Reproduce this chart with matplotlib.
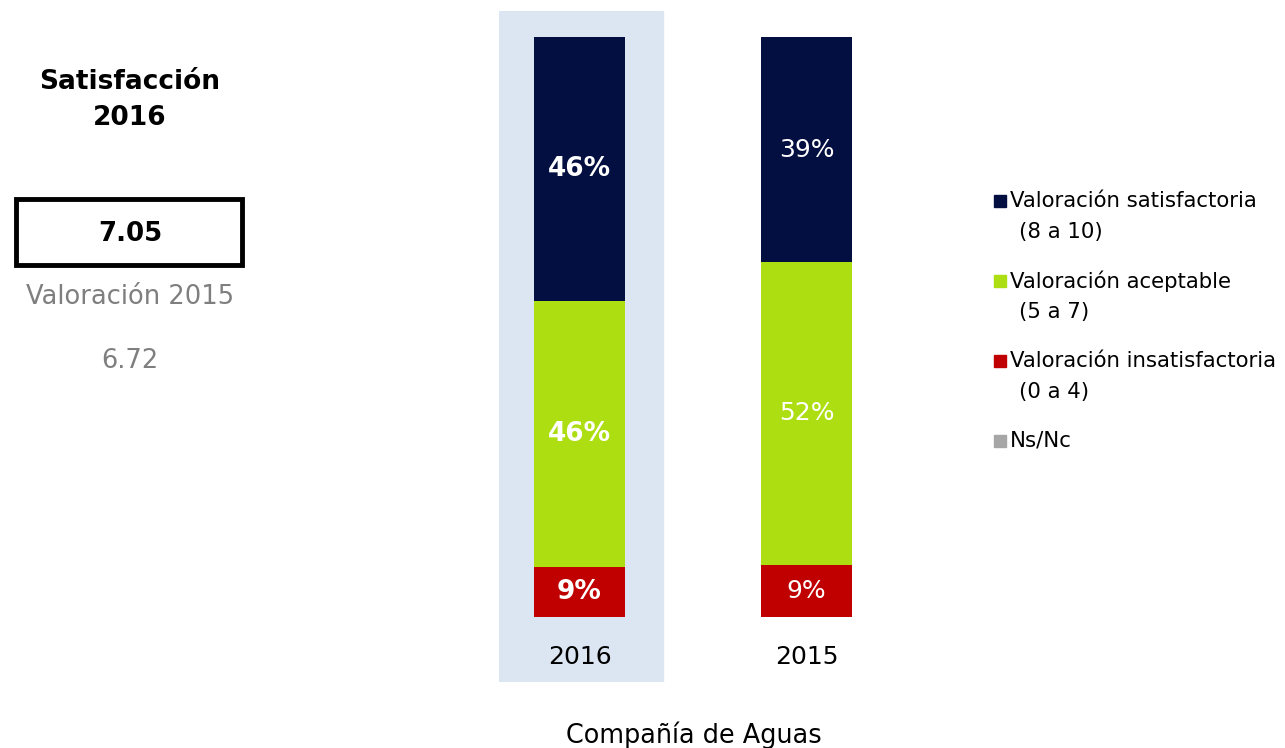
import matplotlib.pyplot as plt
from matplotlib.patches import Rectangle

plt.rcParams['font.family'] = ['DejaVu Sans']

# data
years = ['2016', '2015']
insatisfactoria = [8.6, 9.0]
aceptable = [45.9, 52.2]
satisfactoria = [45.5, 38.8]
nsnc = [0.0, 0.0]
bold_year = [True, False]

legend_labels = ['Valoración satisfactoria\n(8 a 10)', 'Valoración aceptable\n(5 a 7)',
                 'Valoración insatisfactoria\n(0 a 4)', 'Ns/Nc']
score_2016 = '7.05'
score_2015 = '6.72'

c_sat = '#020F40'
c_acep = '#ADDE12'
c_insat = '#C00000'
c_ns = '#A6A6A6'
c_bg = '#DCE6F2'

W, H = 1285, 748
fig = plt.figure(figsize=(W / 100, H / 100), dpi=100)

# axes in pixel layout: left 499, right 920, top 11, bottom 682
ax = fig.add_axes([499 / W, 1 - 682 / H, (920 - 499) / W, (682 - 11) / H])
ax.set_xlim(-80.5 / 227, 1.5)
ax.set_ylim(-65 / 5.8, 100 + 26 / 5.8)
ax.axis('off')

ax.axvspan(-80.5 / 227, 83.5 / 227, color=c_bg, zorder=0)

x = range(len(years))
bw = 91 / 227
b1 = ax.bar(x, insatisfactoria, width=bw, color=c_insat, zorder=2)
bot2 = [insatisfactoria[i] for i in x]
b2 = ax.bar(x, aceptable, width=bw, bottom=bot2, color=c_acep, zorder=2)
bot3 = [insatisfactoria[i] + aceptable[i] for i in x]
b3 = ax.bar(x, satisfactoria, width=bw, bottom=bot3, color=c_sat, zorder=2)

for bars, vals, bots in [(b1, insatisfactoria, [0, 0]), (b2, aceptable, bot2), (b3, satisfactoria, bot3)]:
    for i, (r, v) in enumerate(zip(bars, vals)):
        ax.text(r.get_x() + r.get_width() / 2, bots[i] + v / 2, f'{round(v)}%',
                ha='center', va='center', color='white',
                fontsize=19 if bold_year[i] else 18,
                fontweight='bold' if bold_year[i] else 'normal', zorder=3)

for i, y in enumerate(years):
    ax.text(i, -40 / 5.8, y, ha='center', va='center', fontsize=18, color='black')

fig.text(694 / W, 1 - 735 / H, 'Compañía de Aguas', ha='center', va='center', fontsize=18.4)

# left panel
fig.text(130 / W, 1 - 100 / H, 'Satisfacción\n2016', ha='center', va='center',
         fontsize=19, fontweight='bold', linespacing=1.48)
fig.patches.append(Rectangle((16 / W, 1 - 265 / H), 226 / W, 66 / H, transform=fig.transFigure,
                             fill=False, edgecolor='black', linewidth=3.5))
fig.text(130 / W, 1 - 234 / H, score_2016, ha='center', va='center', fontsize=18.7, fontweight='bold')
fig.text(130 / W, 1 - 297 / H, 'Valoración 2015', ha='center', va='center', fontsize=18.5, color='#7F7F7F')
fig.text(130 / W, 1 - 361 / H, score_2015, ha='center', va='center', fontsize=18.5, color='#7F7F7F')

# legend
colors = [c_sat, c_acep, c_insat, c_ns]
for k, (lab, col) in enumerate(zip(legend_labels, colors)):
    yy = 201 + 80 * k
    fig.patches.append(Rectangle((994 / W, 1 - (yy + 6) / H), 12 / W, 12 / H,
                                 transform=fig.transFigure, color=col))
    lines = lab.split('\n')
    fig.text(1010 / W, 1 - yy / H, lines[0], ha='left', va='center', fontsize=15.3)
    if len(lines) > 1:
        fig.text(1019 / W, 1 - (yy + 31) / H, lines[1], ha='left', va='center', fontsize=15.3)

plt.savefig('out.png', dpi=100)
